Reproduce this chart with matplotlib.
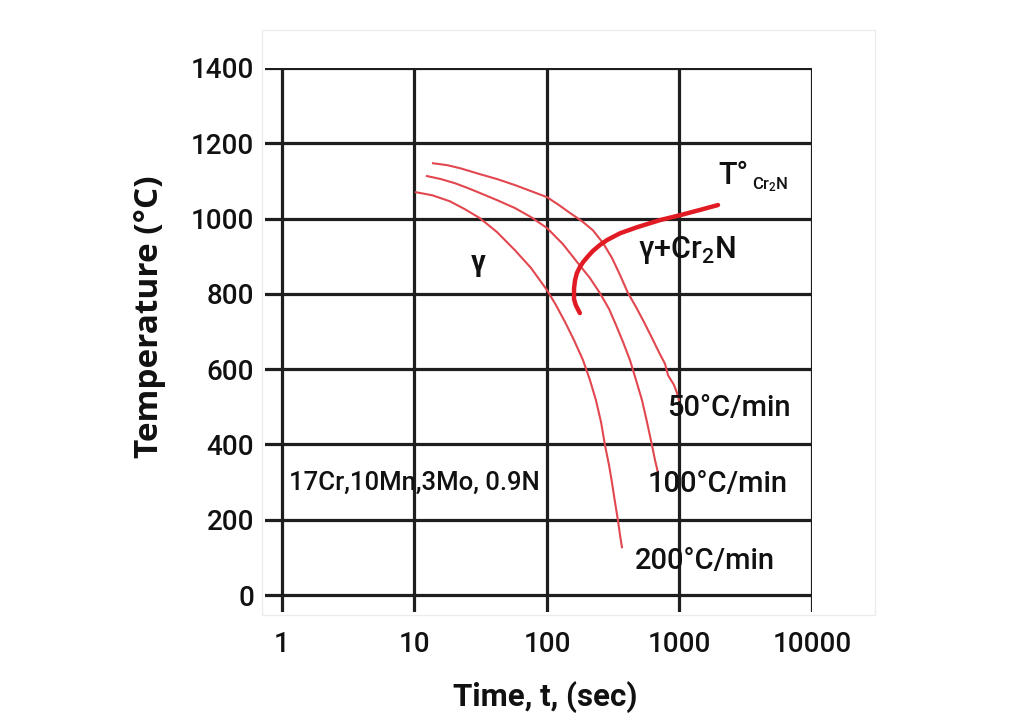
import matplotlib
matplotlib.use("Agg")
import matplotlib.pyplot as plt
from matplotlib.patches import Rectangle

plt.rcParams['font.family'] = ['Roboto', 'DejaVu Sans']
plt.rcParams['mathtext.fontset'] = 'custom'
plt.rcParams['mathtext.rm'] = 'Roboto:medium'
plt.rcParams['mathtext.it'] = 'Roboto:medium'

# ---- data ----
x_ticks = [1, 10, 100, 1000, 10000]
x_tick_labels = ["1", "10", "100", "1000", "10000"]
y_ticks = [0, 200, 400, 600, 800, 1000, 1200, 1400]

t_200 = [10.26, 13.6, 18.5, 24.0, 31.2, 42.0, 57.3, 75.7, 100, 117, 137, 160, 187,
         211, 234, 256, 274, 294, 310, 326, 343, 356, 368]
T_200 = [1070, 1062, 1046, 1025, 1001, 964, 916, 869, 810, 770, 725, 677, 624,
         571, 518, 459, 398, 345, 297, 247, 199, 159, 127]

t_100 = [12.4, 15.8, 20.2, 25.3, 31.2, 42.0, 57.3, 75.7, 100, 132, 171, 211, 251,
         294, 332, 375, 423, 470, 521, 569, 620, 653, 689]
T_100 = [1113, 1105, 1094, 1081, 1068, 1049, 1028, 1004, 975, 932, 882, 842, 802,
         760, 717, 672, 624, 571, 518, 459, 398, 359, 324]

t_50 = [13.8, 17.6, 22.0, 26.2, 31.2, 42.0, 57.3, 75.7, 100, 123, 149, 184, 222,
        265, 310, 356, 409, 470, 540, 620, 700, 778, 819, 909, 957, 991]
T_50 = [1147, 1142, 1134, 1126, 1118, 1105, 1089, 1073, 1057, 1036, 1015, 993, 969,
        935, 895, 850, 802, 765, 725, 683, 645, 614, 584, 558, 537, 518]

t_cr2n = [177, 165, 160, 160, 163, 168, 177, 187, 204, 222, 251, 284, 356, 478,
          713, 1009, 1428, 1953]
T_cr2n = [749, 770, 786, 815, 837, 855, 871, 884, 900, 914, 930, 943, 961, 977,
          996, 1009, 1023, 1036]

fig = plt.figure(figsize=(10.30, 7.27), dpi=100)
# faint frame of the pasted image
fig.patches.append(Rectangle((262 / 1030, 1 - 615 / 727), (875 - 262) / 1030, (615 - 30) / 727,
                             transform=fig.transFigure, fill=False, edgecolor='#ececec', lw=1))

ax = fig.add_axes([265 / 1030, 1 - 612 / 727, (812 - 265) / 1030, (612 - 68) / 727])
ax.set_xscale('log')
ax.set_xlim(10 ** -0.128, 10000)
ax.set_ylim(-45, 1400)
for s in ax.spines.values():
    s.set_visible(False)
ax.patch.set_alpha(0)

grid_c = '#1e1e1e'
for yv in y_ticks:
    ax.axhline(yv, color=grid_c, lw=2.3, zorder=1)
for xv in x_ticks:
    ax.plot([xv, xv], [-45, 1400], color=grid_c, lw=2.3, zorder=1, solid_capstyle='butt')

ax.set_xticks(x_ticks)
ax.set_xticklabels(x_tick_labels)
ax.set_yticks(y_ticks)
ax.minorticks_off()
ax.tick_params(axis='both', length=0, labelsize=20, colors='#111111')
ax.tick_params(axis='y', pad=8)
ax.tick_params(axis='x', pad=14)
for lab in ax.get_xticklabels() + ax.get_yticklabels():
    lab.set_fontweight('medium')

thin = '#e2474f'
ax.plot(t_200, T_200, color=thin, lw=1.5, zorder=3)
ax.plot(t_100, T_100, color=thin, lw=1.5, zorder=3)
ax.plot(t_50, T_50, color=thin, lw=1.5, zorder=3)
ax.plot(t_cr2n, T_cr2n, color='#e11b24', lw=3.2, zorder=4, solid_capstyle='round')

tc = '#111111'
fw = 'medium'
ax.text(9.9, 297, "17Cr,10Mn,3Mo, 0.9N", fontsize=18.5, ha='center', va='center', color=tc, fontweight=fw)
ax.text(30.1, 882, "γ", fontsize=21, ha='center', va='center', color=tc, fontweight='bold')
ax.text(1140, 916, "γ+Cr$_2$N", fontsize=22, ha='center', va='center', color=tc, fontweight=fw)
ax.text(2535, 1115, "T°", fontsize=22, ha='center', va='center', color=tc, fontweight=fw)
ax.text(4820, 1089, "Cr$_2$N", fontsize=12, ha='center', va='center', color=tc, fontweight=fw)
ax.text(2365, 497, "50°C/min", fontsize=21, ha='center', va='center', color=tc, fontweight=fw)
ax.text(1952, 295, "100°C/min", fontsize=21, ha='center', va='center', color=tc, fontweight=fw)
ax.text(1553, 90, "200°C/min", fontsize=21, ha='center', va='center', color=tc, fontweight=fw)

fig.text(545 / 1030, 1 - 697 / 727, "Time, t, (sec)", fontsize=22.5, fontweight='bold',
         ha='center', va='center', color=tc)
fig.text(150 / 1030, 1 - 317 / 727, "Temperature (°C)", fontsize=24, fontweight='bold',
         ha='center', va='center', rotation=90, color=tc, family=['Open Sans', 'DejaVu Sans'])

fig.savefig("out.png", dpi=100, facecolor='white')
